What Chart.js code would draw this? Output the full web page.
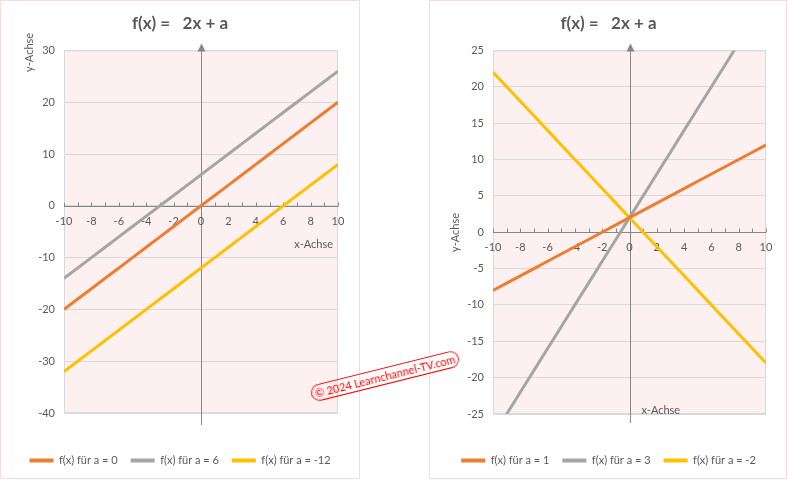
<!DOCTYPE html>
<html>
<head>
<meta charset="utf-8">
<script src="https://cdn.jsdelivr.net/npm/chart.js@4.4.0/dist/chart.umd.min.js"></script>
<style>
  body { margin: 0; background: #fff; width: 788px; height: 480px; overflow: hidden; position: relative; font-family: Lato, "Open Sans", sans-serif; }
  .panel { position: absolute; top: 0; height: 480px; }
  .rahmen { position: absolute; top: 0; height: 479px; border: 1px solid #f8dcdc; box-sizing: border-box; pointer-events: none; }
  #stempel {
    position: absolute; left: 385px; top: 376px;
    transform: translate(-50%, -50%) rotate(-14deg);
    color: #ff0000; border: 1.2px solid #ff0000; border-radius: 9px;
    padding: 0 3px; font-size: 11px; line-height: 15px; white-space: nowrap;
  }
</style>
</head>
<body>

<div class="panel" style="left:0;width:360px"><canvas id="links"></canvas></div>
<div class="panel" style="left:430px;width:357px"><canvas id="rechts"></canvas></div>
<div class="rahmen" style="left:0;width:360px"></div>
<div class="rahmen" style="left:429px;width:358px"></div>
<div id="stempel">© 2024 Learnchannel-TV.com</div>

<script>
/* ─────────── Daten ─────────── */
const xWerte      = [-10, -9, -8, -7, -6, -5, -4, -3, -2, -1, 0, 1, 2, 3, 4, 5, 6, 7, 8, 9, 10];
const xBeschriftung = [-10, -8, -6, -4, -2, 0, 2, 4, 6, 8, 10];

// linkes Diagramm: f(x) = 2x + a
const linksA0   = [-20, -18, -16, -14, -12, -10, -8, -6, -4, -2, 0, 2, 4, 6, 8, 10, 12, 14, 16, 18, 20];
const linksA6   = [-14, -12, -10, -8, -6, -4, -2, 0, 2, 4, 6, 8, 10, 12, 14, 16, 18, 20, 22, 24, 26];
const linksAm12 = [-32, -30, -28, -26, -24, -22, -20, -18, -16, -14, -12, -10, -8, -6, -4, -2, 0, 2, 4, 6, 8];
const linksNamen = ["f(x) für a = 0", "f(x) für a = 6", "f(x) für a = -12"];

// rechtes Diagramm
const rechtsA1  = [-8, -7, -6, -5, -4, -3, -2, -1, 0, 1, 2, 3, 4, 5, 6, 7, 8, 9, 10, 11, 12];
const rechtsA3  = [-28, -25, -22, -19, -16, -13, -10, -7, -4, -1, 2, 5, 8, 11, 14, 17, 20, 23, 26, 29, 32];
const rechtsAm2 = [22, 20, 18, 16, 14, 12, 10, 8, 6, 4, 2, 0, -2, -4, -6, -8, -10, -12, -14, -16, -18];
const rechtsNamen = ["f(x) für a = 1", "f(x) für a = 3", "f(x) für a = -2"];

const titel = "f(x) =   2x + a";
const farben = ["#ED7D31", "#A5A5A5", "#FFC000"];
const textFarbe = "#595959";
const schrift = "Lato, 'Open Sans', sans-serif";

/* ─────────── Achsen-Plugin ─────────── */
const achsenPlugin = {
  id: "achsen",
  beforeDraw(chart) {
    const { ctx, chartArea: a } = chart;
    ctx.save();
    ctx.fillStyle = "#fdf0f0";
    ctx.fillRect(a.left, a.top, a.width, a.height);
    ctx.restore();
  },
  beforeDatasetsDraw(chart, args, opts) {
    const { ctx, chartArea: a, scales: { x, y } } = chart;
    const x0 = Math.round(x.getPixelForValue(0)) + 0.5;
    const y0 = Math.round(y.getPixelForValue(0)) + 0.5;
    ctx.save();
    ctx.lineWidth = 1;
    ctx.strokeStyle = "#d9d9d9";
    ctx.strokeRect(a.left + 0.5, a.top + 0.5, a.width - 1, a.height - 1);

    ctx.strokeStyle = "#868686";
    ctx.beginPath();
    ctx.moveTo(a.left, y0);
    ctx.lineTo(a.right, y0);
    xWerte.forEach(v => {
      const px = Math.round(x.getPixelForValue(v)) + 0.5;
      ctx.moveTo(px, y0);
      ctx.lineTo(px, y0 - 4);
    });
    ctx.moveTo(x0, a.top);
    ctx.lineTo(x0, a.bottom + opts.unten);
    ctx.stroke();

    // Pfeil
    ctx.fillStyle = "#868686";
    ctx.beginPath();
    ctx.moveTo(x0, a.top - 7);
    ctx.lineTo(x0 - 4, a.top + 1);
    ctx.lineTo(x0 + 4, a.top + 1);
    ctx.closePath();
    ctx.fill();

    // Beschriftung x
    ctx.font = "11px " + schrift;
    ctx.fillStyle = textFarbe;
    ctx.textAlign = "center";
    ctx.textBaseline = "middle";
    xBeschriftung.forEach(v => ctx.fillText(String(v), x.getPixelForValue(v), y0 + 15));

    // x-Achse Titel
    if (opts.xTitel === "rechts") {
      ctx.textAlign = "right";
      ctx.fillText("x-Achse", a.right - 5, y0 + 38);
    } else {
      ctx.textAlign = "left";
      ctx.fillText("x-Achse", x0 + 11, a.bottom - 4);
    }

    // y-Achse Titel
    ctx.translate(opts.yTitelX, opts.yTitel === "oben" ? a.top + 2 : y0);
    ctx.rotate(-Math.PI / 2);
    ctx.textAlign = "center";
    ctx.fillText("y-Achse", 0, 0);
    ctx.restore();
  }
};

function punkte(werte) {
  return xWerte.map((xv, i) => ({ x: xv, y: werte[i] }));
}

function diagramm(id, reihen, namen, yMin, yMax, yStep, linksBreite, rechtsBreite, xAchsenHoehe, achsenOpts) {
  return new Chart(document.getElementById(id), {
    type: "line",
    data: {
      datasets: reihen.map((r, i) => ({
        label: namen[i],
        data: punkte(r),
        borderColor: farben[i],
        backgroundColor: farben[i],
        borderWidth: 3,
        pointRadius: 0,
        tension: 0
      }))
    },
    plugins: [achsenPlugin],
    options: {
      responsive: true,
      maintainAspectRatio: false,
      animation: false,
      events: [],
      layout: { padding: { top: 0, bottom: 4, left: 0, right: 0 } },
      scales: {
        x: {
          type: "linear", min: -10, max: 10,
          ticks: { display: false }, grid: { display: false }, border: { display: false },
          afterFit: s => { s.height = xAchsenHoehe; }
        },
        y: {
          min: yMin, max: yMax,
          ticks: { stepSize: yStep, color: textFarbe, font: { size: 11, family: schrift }, padding: 9 },
          grid: { color: "#d9d9d9", drawTicks: false },
          border: { display: false },
          afterFit: s => { s.width = linksBreite; }
        },
        rand: {
          position: "right", display: true,
          ticks: { display: false }, grid: { display: false }, border: { display: false },
          afterFit: s => { s.width = rechtsBreite; }
        }
      },
      plugins: {
        title: {
          display: true, text: titel, color: textFarbe,
          font: { size: 17, weight: "bold", family: schrift },
          padding: { top: 13, bottom: 17 }
        },
        legend: {
          position: "bottom",
          labels: {
            color: textFarbe, font: { size: 11, family: schrift }, padding: 13,
            usePointStyle: true, pointStyle: "line", pointStyleWidth: 24,
            generateLabels(chart) {
              const items = Chart.defaults.plugins.legend.labels.generateLabels(chart);
              items.forEach(it => { it.lineWidth = 4; it.pointStyle = "line"; });
              return items;
            }
          }
        },
        tooltip: { enabled: false },
        achsen: achsenOpts
      }
    }
  });
}

diagramm("links", [linksA0, linksA6, linksAm12], linksNamen, -40, 30, 10, 64, 22, 29,
  { unten: 12, xTitel: "rechts", yTitel: "oben", yTitelX: 29 });
diagramm("rechts", [rechtsA1, rechtsA3, rechtsAm2], rechtsNamen, -25, 25, 5, 63, 21, 28,
  { unten: 9, xTitel: "links", yTitel: "mitte", yTitelX: 25 });
</script>
</body>
</html>
